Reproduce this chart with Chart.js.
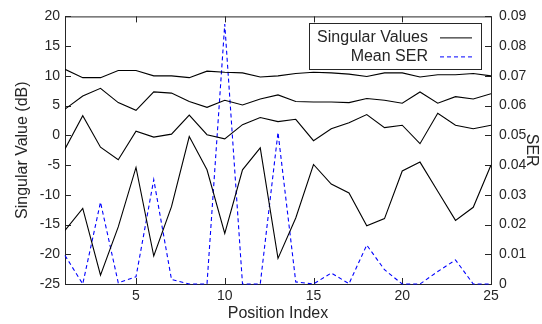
<!DOCTYPE html>
<html>
<head>
<meta charset="utf-8">
<script src="https://cdn.jsdelivr.net/npm/chart.js@4"></script>
<style>
  html, body { margin: 0; padding: 0; background: #fff; }
  #wrap { width: 542px; height: 324px; }
</style>
</head>
<body>
<div id="wrap"><canvas id="chart"></canvas></div>
<script>
const positions = [1, 2, 3, 4, 5, 6, 7, 8, 9, 10, 11, 12, 13, 14, 15, 16, 17, 18, 19, 20, 21, 22, 23, 24, 25];
const singular1 = [11.1, 9.7, 9.7, 10.9, 10.9, 10.0, 10.0, 9.7, 10.8, 10.6, 10.5, 9.8, 10.0, 10.4, 10.6, 10.5, 10.3, 9.9, 10.5, 10.5, 9.8, 10.2, 10.2, 10.4, 10.0];
const singular2 = [4.4, 6.6, 7.9, 5.5, 4.2, 7.3, 7.1, 5.7, 4.7, 5.9, 5.1, 6.1, 6.8, 5.7, 5.6, 5.6, 5.5, 6.2, 5.9, 5.4, 7.3, 5.4, 6.5, 6.1, 7.0];
const singular3 = [-2.3, 3.3, -2.0, -4.1, 0.7, -0.3, 0.2, 3.4, 0.1, -0.6, 1.8, 3.0, 2.3, 2.7, -0.9, 1.1, 2.1, 3.5, 1.3, 1.7, -1.4, 3.7, 1.7, 1.1, 1.7];
const singular4 = [-16.0, -12.3, -23.5, -15.4, -5.4, -20.3, -12.0, -0.2, -5.8, -16.5, -5.8, -2.1, -20.7, -13.9, -4.9, -8.2, -9.7, -15.2, -14.0, -6.0, -4.5, -9.4, -14.3, -12.1, -5.0];
const meanSer = [0.0096, 0, 0.0275, 0.0004, 0.0024, 0.0351, 0.0015, 0, 0, 0.0874, 0, 0, 0.051, 0.0007, 0, 0.0037, 0.0001, 0.0131, 0.0048, 0, 0, 0.0042, 0.0081, 0, 0];
const xTicks = [5, 10, 15, 20, 25];
const legendLabels = ["Singular Values", "Mean SER"];

const ink = "#262626";
const font = "'Liberation Sans', Arial, sans-serif";

const pts = (ys) => positions.map((x, i) => ({ x: x, y: ys[i] }));
const svLine = (ys, label) => ({
  label: label,
  data: pts(ys),
  yAxisID: "y",
  borderColor: "#000",
  borderWidth: 1.1,
  pointRadius: 0,
  tension: 0,
});

// frame with inward tick marks, like the original plot
const framePlugin = {
  id: "frame",
  beforeDatasetsDraw(chart) {
    const { ctx, chartArea: a, scales } = chart;
    const len = 6;
    ctx.save();
    ctx.strokeStyle = ink;
    ctx.lineWidth = 1;
    ctx.strokeRect(a.left + 0.5, a.top + 0.5, a.right - a.left, a.bottom - a.top);
    ctx.beginPath();
    scales.x.ticks.forEach((t) => {
      const px = Math.round(scales.x.getPixelForValue(t.value)) + 0.5;
      ctx.moveTo(px, a.bottom);
      ctx.lineTo(px, a.bottom - len);
      ctx.moveTo(px, a.top);
      ctx.lineTo(px, a.top + len);
    });
    scales.y.ticks.forEach((t) => {
      const py = Math.round(scales.y.getPixelForValue(t.value)) + 0.5;
      ctx.moveTo(a.left, py);
      ctx.lineTo(a.left + len, py);
    });
    scales.y1.ticks.forEach((t) => {
      const py = Math.round(scales.y1.getPixelForValue(t.value)) + 0.5;
      ctx.moveTo(a.right, py);
      ctx.lineTo(a.right - len, py);
    });
    ctx.stroke();
    ctx.restore();
  },
};

// boxed legend with text on the left and sample line on the right
const legendPlugin = {
  id: "boxLegend",
  afterDraw(chart) {
    const { ctx, chartArea: a } = chart;
    const boxW = 172, boxH = 46;
    const bx = a.right - 10 - boxW;
    const by = a.top + 6.5;
    ctx.save();
    ctx.fillStyle = "#fff";
    ctx.fillRect(bx, by, boxW, boxH);
    ctx.strokeStyle = ink;
    ctx.lineWidth = 1;
    ctx.strokeRect(Math.round(bx) + 0.5, Math.round(by) + 0.5, boxW, boxH);
    ctx.font = "16px " + font;
    ctx.fillStyle = ink;
    ctx.textAlign = "right";
    ctx.textBaseline = "middle";
    const styles = [
      { color: "#000", dash: [] },
      { color: "#0000ff", dash: [4, 3] },
    ];
    legendLabels.forEach((lab, i) => {
      const cy = by + 14.5 + i * 19;
      ctx.fillText(lab, bx + 119, cy);
      ctx.beginPath();
      ctx.strokeStyle = styles[i].color;
      ctx.setLineDash(styles[i].dash);
      ctx.moveTo(bx + 131, cy + 0.5);
      ctx.lineTo(bx + 163, cy + 0.5);
      ctx.stroke();
    });
    ctx.restore();
  },
};

const ctx = document.getElementById("chart").getContext("2d");
new Chart(ctx, {
  type: "line",
  data: {
    datasets: [
      svLine(singular1, legendLabels[0]),
      svLine(singular2, legendLabels[0]),
      svLine(singular3, legendLabels[0]),
      svLine(singular4, legendLabels[0]),
      {
        label: legendLabels[1],
        data: pts(meanSer),
        yAxisID: "y1",
        borderColor: "#0000ff",
        borderWidth: 1.1,
        borderDash: [4, 3],
        pointRadius: 0,
        tension: 0,
        clip: false,
      },
    ],
  },
  plugins: [framePlugin, legendPlugin],
  options: {
    responsive: true,
    maintainAspectRatio: false,
    animation: false,
    layout: { padding: { top: 12, left: 0, right: 0, bottom: 0 } },
    plugins: {
      legend: { display: false },
      tooltip: { enabled: false },
    },
    scales: {
      x: {
        type: "linear",
        min: 1,
        max: 25,
        afterBuildTicks: (s) => { s.ticks = xTicks.map((v) => ({ value: v })); },
        afterFit: (s) => { s.height = 40; },
        grid: { display: false, drawTicks: false },
        border: { display: false },
        ticks: { color: ink, padding: 4, maxRotation: 0, font: { family: font, size: 14 } },
        title: {
          display: true,
          text: "Position Index",
          color: ink,
          padding: { top: 0, bottom: 1 },
          font: { family: font, size: 16 },
        },
      },
      y: {
        position: "left",
        min: -25,
        max: 20,
        ticks: { stepSize: 5, color: ink, padding: 5, font: { family: font, size: 14 } },
        afterFit: (s) => { s.width = 65; },
        grid: { display: false, drawTicks: false },
        border: { display: false },
        title: {
          display: true,
          text: "Singular Value (dB)",
          color: ink,
          padding: { top: 13, bottom: 0 },
          font: { family: font, size: 16 },
        },
      },
      y1: {
        position: "right",
        min: 0,
        max: 0.09,
        ticks: { stepSize: 0.01, color: ink, padding: 8, font: { family: font, size: 14 } },
        afterFit: (s) => { s.width = 51; },
        grid: { display: false, drawTicks: false },
        border: { display: false },
        title: {
          display: true,
          text: "SER",
          color: ink,
          padding: { top: 1, bottom: 0 },
          font: { family: font, size: 16 },
        },
      },
    },
  },
});
</script>
</body>
</html>
